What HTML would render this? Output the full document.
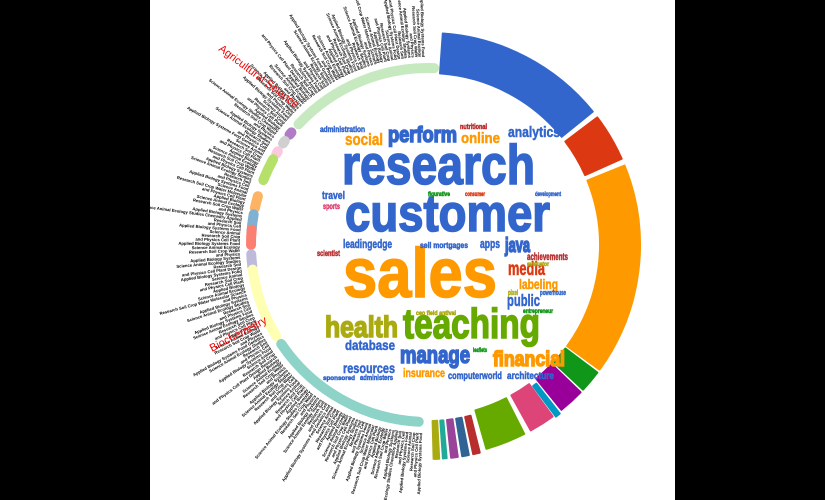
<!DOCTYPE html>
<html><head><meta charset="utf-8"><style>
html,body{margin:0;padding:0;background:#fff;overflow:hidden;width:825px;height:500px}
svg{display:block;overflow:hidden}
.w{font-family:"Liberation Sans Narrow","Liberation Sans",sans-serif;font-weight:bold}
</style></head><body>
<svg id="chart" width="825" height="500" viewBox="0 0 825 500">
<g id="labels"></g>
<rect x="0" y="0" width="150" height="500" fill="#000"/>
<rect x="675" y="0" width="150" height="500" fill="#000"/>
<g id="pastel"></g>
<g id="outer"></g>
<text x="218" y="50" transform="rotate(37 218 50)" font-family="Liberation Sans, sans-serif" font-size="11" fill="#e00">Agricultural Science</text>
<text x="212" y="352" transform="rotate(-28 212 352)" font-family="Liberation Sans, sans-serif" font-size="11" fill="#e00">Biochemistry</text>
<g class="w" id="cloud">
<text x="342" y="184" font-size="56" textLength="193" lengthAdjust="spacingAndGlyphs" fill="#3366cc">research</text>
<text x="345" y="231" font-size="52" textLength="205" lengthAdjust="spacingAndGlyphs" fill="#3366cc">customer</text>
<text x="343" y="297" font-size="70" textLength="154" lengthAdjust="spacingAndGlyphs" fill="#ff9900">sales</text>
<text x="403" y="338" font-size="42" textLength="137" lengthAdjust="spacingAndGlyphs" fill="#66aa00">teaching</text>
<text x="325" y="337" font-size="30" textLength="73" lengthAdjust="spacingAndGlyphs" fill="#aaaa11">health</text>
<text x="388" y="142" font-size="22" textLength="69" lengthAdjust="spacingAndGlyphs" fill="#3366cc">perform</text>
<text x="345" y="145" font-size="17" textLength="38" lengthAdjust="spacingAndGlyphs" fill="#ff9900">social</text>
<text x="461" y="143" font-size="15" textLength="39" lengthAdjust="spacingAndGlyphs" fill="#ff9900">online</text>
<text x="508" y="137" font-size="15" textLength="52" lengthAdjust="spacingAndGlyphs" fill="#3366cc">analytics</text>
<text x="320" y="132" font-size="8" textLength="45" lengthAdjust="spacingAndGlyphs" fill="#3366cc">administration</text>
<text x="460" y="129" font-size="7" textLength="27" lengthAdjust="spacingAndGlyphs" fill="#b82e2e">nutritional</text>
<text x="400" y="363" font-size="24" textLength="70" lengthAdjust="spacingAndGlyphs" fill="#3366cc">manage</text>
<text x="493" y="366" font-size="21" textLength="72" lengthAdjust="spacingAndGlyphs" fill="#ff9900">financial</text>
<text x="345" y="350" font-size="14" textLength="50" lengthAdjust="spacingAndGlyphs" fill="#3366cc">database</text>
<text x="343" y="373" font-size="14" textLength="52" lengthAdjust="spacingAndGlyphs" fill="#3366cc">resources</text>
<text x="505" y="252" font-size="20" textLength="25" lengthAdjust="spacingAndGlyphs" fill="#3366cc">java</text>
<text x="508" y="275" font-size="19" textLength="37" lengthAdjust="spacingAndGlyphs" fill="#dc3912">media</text>
<text x="519" y="289" font-size="14" textLength="39" lengthAdjust="spacingAndGlyphs" fill="#ff9900">labeling</text>
<text x="507" y="306" font-size="17" textLength="33" lengthAdjust="spacingAndGlyphs" fill="#3366cc">public</text>
<text x="403" y="377" font-size="12" textLength="42" lengthAdjust="spacingAndGlyphs" fill="#ff9900">insurance</text>
<text x="448" y="379" font-size="10" textLength="54" lengthAdjust="spacingAndGlyphs" fill="#3366cc">computerworld</text>
<text x="507" y="379" font-size="10" textLength="47" lengthAdjust="spacingAndGlyphs" fill="#3366cc">architecture</text>
<text x="343" y="248" font-size="12" textLength="49" lengthAdjust="spacingAndGlyphs" fill="#3366cc">leadingedge</text>
<text x="480" y="248" font-size="13" textLength="20" lengthAdjust="spacingAndGlyphs" fill="#3366cc">apps</text>
<text x="527" y="260" font-size="10" textLength="41" lengthAdjust="spacingAndGlyphs" fill="#b82e2e">achievements</text>
<text x="322" y="199" font-size="11" textLength="23" lengthAdjust="spacingAndGlyphs" fill="#3366cc">travel</text>
<text x="323" y="209" font-size="8" textLength="17" lengthAdjust="spacingAndGlyphs" fill="#dd4477">sports</text>
<text x="317" y="256" font-size="8" textLength="23" lengthAdjust="spacingAndGlyphs" fill="#b82e2e">scientist</text>
<text x="420" y="248" font-size="8" textLength="48" lengthAdjust="spacingAndGlyphs" fill="#3366cc">sell mortgages</text>
<text x="540" y="295" font-size="7" textLength="26" lengthAdjust="spacingAndGlyphs" fill="#3366cc">powerhouse</text>
<text x="508" y="295" font-size="7" textLength="10" lengthAdjust="spacingAndGlyphs" fill="#aaaa11">pixel</text>
<text x="360" y="380" font-size="7" textLength="33" lengthAdjust="spacingAndGlyphs" fill="#3366cc">administers</text>
<text x="323" y="380" font-size="6" textLength="32" lengthAdjust="spacingAndGlyphs" fill="#3366cc">sponsored</text>
<text x="428" y="196" font-size="6" textLength="22" lengthAdjust="spacingAndGlyphs" fill="#109618">figurative</text>
<text x="465" y="196" font-size="6" textLength="20" lengthAdjust="spacingAndGlyphs" fill="#dc3912">consumer</text>
<text x="535" y="196" font-size="6" textLength="26" lengthAdjust="spacingAndGlyphs" fill="#3366cc">development</text>
<text x="416" y="315" font-size="6" textLength="40" lengthAdjust="spacingAndGlyphs" fill="#aaaa11">ceo field antival</text>
<text x="523" y="313" font-size="6" textLength="30" lengthAdjust="spacingAndGlyphs" fill="#109618">entrepreneur</text>
<text x="527" y="266" font-size="6" textLength="22" lengthAdjust="spacingAndGlyphs" fill="#aaaa11">evaluator</text>
<text x="473" y="352" font-size="6" textLength="14" lengthAdjust="spacingAndGlyphs" fill="#109618">leaflets</text>
</g>
</svg>
<script>
const cx = 428, cy = 245;
const segStart = [4, 53, 68, 127, 134, 142, 144, 153, 166, 169, 172, 175, 177];
const segEnd   = [51, 66, 126, 133, 141, 143.3, 151, 164, 167.8, 170.8, 173.8, 176, 178.5];
const segColor = ['#3366cc','#dc3912','#ff9900','#109618','#990099','#0099c6','#dd4477','#66aa00','#b82e2e','#316395','#994499','#22aa99','#aaaa11'];
const catFrom  = [-47, -51.5, -55, -59, -68.5, -78, -86, -90, -97, -121, -177];
const catEnd   = [2, -50.5, -54, -58, -61, -74, -80, -85, -93, -98, -124];
const catColor = ['#c7e9c0','#b07cc6','#d0d0d0','#fbc8e0','#b5e06a','#fdb462','#80b1d3','#fb8072','#bebada','#ffffb3','#8dd3c7'];
const labelWords = ['Applied','Cell','Molecular','Biology','Plant','Science','Systems','Design','Animal','Food','Research','Ecology','Genetics','Soil','Studies','and','Crop','Chemistry','Physics','Water'];
const NS = 'http://www.w3.org/2000/svg';
function pt(a, r){ const t = a*Math.PI/180; return [cx + r*Math.sin(t), cy - r*Math.cos(t)]; }
function arcPath(a0, a1, r0, r1){
  const p0=pt(a0,r1), p1=pt(a1,r1), p2=pt(a1,r0), p3=pt(a0,r0);
  const lg = (a1-a0)>180?1:0;
  return 'M'+p0[0]+','+p0[1]+' A'+r1+','+r1+' 0 '+lg+' 1 '+p1[0]+','+p1[1]+' L'+p2[0]+','+p2[1]+' A'+r0+','+r0+' 0 '+lg+' 0 '+p3[0]+','+p3[1]+' Z';
}
const outer = document.getElementById('outer');
for (let i=0;i<segStart.length;i++){
  const p = document.createElementNS(NS,'path');
  const thin = (segEnd[i]-segStart[i]) < 3;
  p.setAttribute('d', arcPath(segStart[i], segEnd[i], thin ? 176 : 172, thin ? 214 : 212));
  p.setAttribute('fill', segColor[i]);
  p.setAttribute('stroke', segColor[i]);
  p.setAttribute('stroke-width', '2');
  p.setAttribute('stroke-linejoin', 'round');
  
  
  outer.appendChild(p);
}
const pastel = document.getElementById('pastel');
for (let i=0;i<catColor.length;i++){
  const lo = Math.min(catFrom[i],catEnd[i]), hi = Math.max(catFrom[i],catEnd[i]);
  const p0 = pt(lo,177), p1 = pt(hi,177);
  const p = document.createElementNS(NS,'path');
  p.setAttribute('d', 'M'+p0[0]+','+p0[1]+' A177,177 0 0 1 '+p1[0]+','+p1[1]);
  p.setAttribute('fill', 'none');
  p.setAttribute('stroke', catColor[i]);
  p.setAttribute('stroke-width', '10');
  p.setAttribute('stroke-linecap', 'round');
  
  
  pastel.appendChild(p);
}
const labels = document.getElementById('labels');
let k = 0;
for (let a=-1.5; a>-178.5; a-=1.05){
  const n = 2 + ((k*7) % 3) + ((k*3)%7===0 ? 2 : 0);
  const words = [];
  for (let j=0;j<n;j++) words.push(labelWords[(k*5 + j*3) % labelWords.length]);
  const p = pt(a, 188);
  const th = Math.atan2(Math.cos(a*Math.PI/180), -Math.sin(a*Math.PI/180))*180/Math.PI;
  const t = document.createElementNS(NS,'text');
  t.setAttribute('x', p[0]); t.setAttribute('y', p[1]);
  t.setAttribute('text-anchor','end');
  t.setAttribute('dominant-baseline','middle');
  t.setAttribute('font-family','Liberation Sans, sans-serif');
  t.setAttribute('font-weight','bold');
  t.setAttribute('font-size','4.2');
  t.setAttribute('fill','#000');
  t.setAttribute('transform', 'rotate('+th+' '+p[0]+' '+p[1]+')');
  t.textContent = words.join(' ');
  
  
  labels.appendChild(t);
  k++;
}
document.querySelectorAll('#cloud text').forEach(function(t){
  const fs = parseFloat(t.getAttribute('font-size'));
  t.setAttribute('stroke', t.getAttribute('fill'));
  t.setAttribute('stroke-width', fs >= 20 ? '1.6' : '0.5');
});
</script>
</body></html>
